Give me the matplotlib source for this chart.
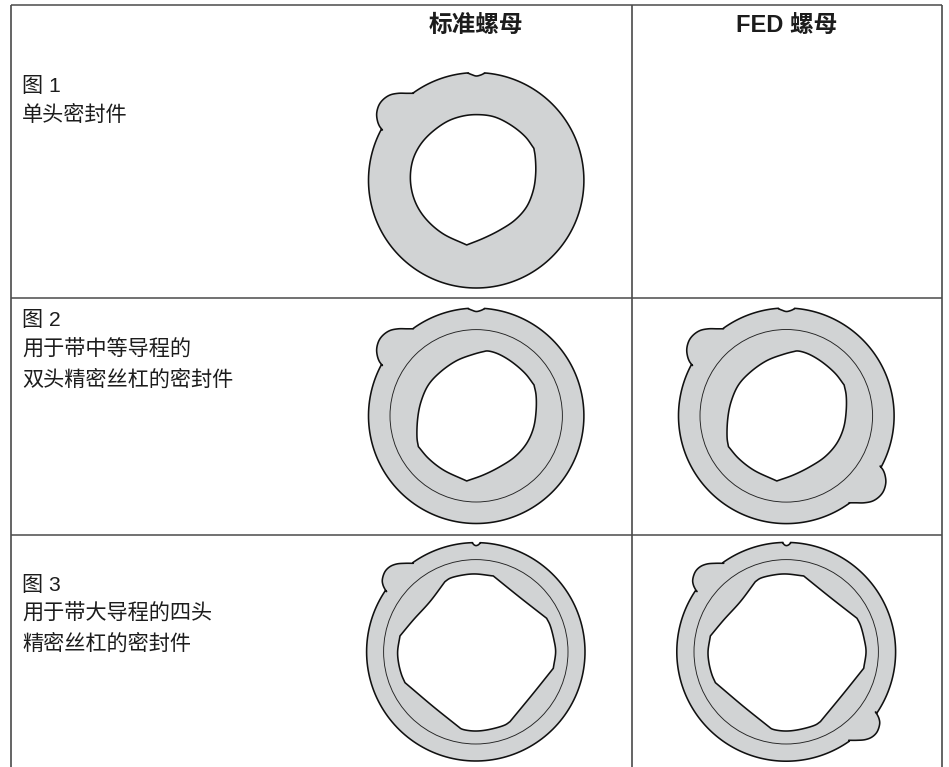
import numpy as np
import matplotlib
matplotlib.use("Agg")
import matplotlib.pyplot as plt
from matplotlib.patches import Polygon, Circle

plt.rcParams['font.family'] = ['Liberation Sans', 'Noto Sans CJK SC', 'DejaVu Sans']

GREY = '#d1d3d4'
INK = '#1c1c1c'

# table text
headers = ['标准螺母', 'FED 螺母']
header_x = [476, 787]
row_labels = [['图 1', '单头密封件'],
              ['图 2', '用于带中等导程的', '双头精密丝杠的密封件'],
              ['图 3', '用于带大导程的四头', '精密丝杠的密封件']]
row_label_y = [[92.5, 121], [326.5, 356, 385.5], [591, 620, 650]]

# table rules, in pixels
rule_v = [11, 632, 942]
rule_h = [4.5, 298, 535]

# outlines, x/y in px relative to the ring centre
lug_mid = [(-62.8, -87), (-69.5, -87), (-77.8, -87), (-86.2, -85.3), (-92.8, -81), (-97.2, -75.3),
           (-99.5, -67), (-98.8, -59.7), (-96.8, -54.3), (-93.8, -50.3)]
notch_mid = [(-7.8, -107), (-4.5, -105.7), (0, -104.3), (4.5, -105.3), (8.2, -107)]
lug_large = [(-62.5, -88.5), (-70.8, -88.5), (-79.2, -87.8), (-85.8, -85.2), (-90.8, -80.2), (-93.5, -71.8),
             (-92.8, -66.8), (-90.8, -62.5), (-89.2, -60.2)]
notch_large = [(-3.2, -108.5), (-1.5, -106.8), (0.2, -106.2), (2.2, -106.8), (4.2, -108.5)]

# bore outlines, zoomed (3x) px relative to the ring centre, corners list the sharp points
bore_one = [(0, -197), (52, -191), (102, -167), (147, -131), (173, -96), (177, -71), (178.5, -21),
            (171.5, 29), (151.5, 79), (116.5, 119), (71.5, 149), (21.5, 174), (-28.5, 194), (-98.5, 161),
            (-143.5, 124), (-173.5, 84), (-191.5, 39), (-197.5, -11), (-190, -61),
            (-170, -103), (-139, -139), (-88, -176), (-43.5, -192)]
bore_one_corners = [4, 12]
bore_two = [(33.5, -194.5), (61.5, -187.5), (101.5, -165.5), (146.5, -127.5), (173.5, -92.5), (179.5, -62.5),
            (179.5, -12.5), (171.5, 37.5), (151.5, 82.5), (116.5, 122.5), (71.5, 152.5), (21.5, 177.5),
            (-28.5, 195.5), (-98.5, 162.5), (-143.5, 127.5), (-173.5, 92.5), (-177.5, 67.5),
            (-175.5, 7.5), (-165.5, -42.5), (-143.5, -92.5), (-108.5, -130.5), (-58.5, -165.5), (-8.5, -184.5),
            (21.5, -192.5)]
bore_two_corners = [4, 12, 15]
bore_four = [(-2.5, -233.5), (52.5, -227.5), (132.5, -163), (212.5, -100.5),
             (222.5, -80.5), (234.5, -35.5), (239.5, -0.5), (232.5, 49.5), (172.5, 124.5),
             (102.5, 209.5), (87.5, 219.5), (32.5, 234.5), (-7.5, 237.5), (-42.5, 231.5), (-52.5, 224.5),
             (-127.5, 164.5), (-192.5, 109.5), (-212.5, 92.5), (-222.5, 69.5), (-231.5, 34.5), (-234.5, -0.5),
             (-227.5, -47.5), (-187.5, -95.5), (-137.5, -150.5), (-92.5, -210.5), (-77.5, -220.5), (-37.5, -230.5)]
bore_four_corners = [1, 3, 7, 9, 14, 17, 21, 24]

# centre x, centre y, outer radius, ring radius per panel
panel_cx = [476.2, 476.2, 786.3, 475.8, 786.2]
panel_cy = [180.3, 415.8, 415.8, 651.8, 651.8]
panel_r = [107.7, 107.7, 107.8, 109.2, 109.4]
panel_ring = [None, 86.2, 86.3, 92.2, 92.2]
panel_lug = [lug_mid, lug_mid, lug_mid, lug_large, lug_large]
panel_notch = [notch_mid, notch_mid, notch_mid, notch_large, notch_large]
panel_bore = [bore_one, bore_two, bore_two, bore_four, bore_four]
panel_corners = [bore_one_corners, bore_two_corners, bore_two_corners, bore_four_corners, bore_four_corners]
panel_twin = [False, False, True, False, True]


def smooth(points, n=10):
    # centripetal catmull-rom, open ends, stays tight on long straight runs
    pts = np.array(points, dtype=float)
    pts = np.vstack([2 * pts[0] - pts[1], pts, 2 * pts[-1] - pts[-2]])
    out = []
    for i in range(1, len(pts) - 2):
        p0, p1, p2, p3 = pts[i - 1], pts[i], pts[i + 1], pts[i + 2]
        t0 = 0.0
        t1 = t0 + np.sqrt(np.linalg.norm(p1 - p0))
        t2 = t1 + np.sqrt(np.linalg.norm(p2 - p1))
        t3 = t2 + np.sqrt(np.linalg.norm(p3 - p2))
        for t in np.linspace(t1, t2, n, endpoint=False):
            a1 = (t1 - t) / (t1 - t0) * p0 + (t - t0) / (t1 - t0) * p1
            a2 = (t2 - t) / (t2 - t1) * p1 + (t - t1) / (t2 - t1) * p2
            a3 = (t3 - t) / (t3 - t2) * p2 + (t - t2) / (t3 - t2) * p3
            b1 = (t2 - t) / (t2 - t0) * a1 + (t - t0) / (t2 - t0) * a2
            b2 = (t3 - t) / (t3 - t1) * a2 + (t - t1) / (t3 - t1) * a3
            out.append((t2 - t) / (t2 - t1) * b1 + (t - t1) / (t2 - t1) * b2)
    out.append(pts[-2])
    return np.array(out)


def bore_outline(points, corners):
    # one open curve between each pair of corners, closed loop overall
    parts = []
    for a, b in zip(corners, corners[1:] + [corners[0] + len(points)]):
        run = [points[k % len(points)] for k in range(a, b + 1)]
        parts.append(smooth(run))
    return np.vstack(parts)


def arc(r, a0, a1):
    # a0 -> a1 going clockwise on screen (angle grows, y points down)
    if a1 < a0:
        a1 += 2 * np.pi
    t = np.linspace(a0, a1, 160)
    return np.column_stack([r * np.cos(t), r * np.sin(t)])


def ang(p):
    return np.arctan2(p[1], p[0])


def outer_outline(r, lug, notch, twin):
    # clockwise from the notch, lug order reversed as it is read from the top
    rev = lug[::-1]
    parts = [smooth(notch, n=8)]
    if twin:
        other = [(-x, -y) for x, y in rev]
        parts.append(arc(r, ang(notch[-1]), ang(other[0])))
        parts.append(smooth(other))
        parts.append(arc(r, ang(other[-1]), ang(rev[0])))
    else:
        parts.append(arc(r, ang(notch[-1]), ang(rev[0])))
    parts.append(smooth(rev))
    parts.append(arc(r, ang(rev[-1]), ang(notch[0])))
    return np.vstack(parts)


fig = plt.figure(figsize=(9.49, 7.67), dpi=100)
ax = fig.add_axes([0, 0, 1, 1])
ax.set_xlim(0, 949)
ax.set_ylim(767, 0)
ax.axis('off')

for x in rule_v:
    ax.plot([x, x], [rule_h[0], 767], color='#3a3a3a', lw=1.1, solid_capstyle='butt')
for y in rule_h:
    ax.plot([rule_v[0], rule_v[-1]], [y, y], color='#4a4a4a', lw=1.1, solid_capstyle='butt')

for x, label in zip(header_x, headers):
    ax.text(x, 32, label, ha='center', va='baseline', fontsize=17, fontweight='bold', color=INK)

for lines, ys in zip(row_labels, row_label_y):
    for line, y in zip(lines, ys):
        ax.text(22, y, line, ha='left', va='baseline', fontsize=15.25, color=INK)

for i in range(len(panel_cx)):
    cx, cy = panel_cx[i], panel_cy[i]
    outline = outer_outline(panel_r[i], panel_lug[i], panel_notch[i], panel_twin[i]) + (cx, cy)
    ax.add_patch(Polygon(outline, closed=True, fc=GREY, ec='#111111', lw=1.15, joinstyle='round'))
    if panel_ring[i]:
        ax.add_patch(Circle((cx, cy), panel_ring[i], fc='none', ec='#222222', lw=0.65))
    bore = bore_outline(panel_bore[i], panel_corners[i]) / 3 + (cx, cy)
    ax.add_patch(Polygon(bore, closed=True, fc='white', ec='#111111', lw=1.15, joinstyle='round'))

fig.savefig('out.png', dpi=100)
